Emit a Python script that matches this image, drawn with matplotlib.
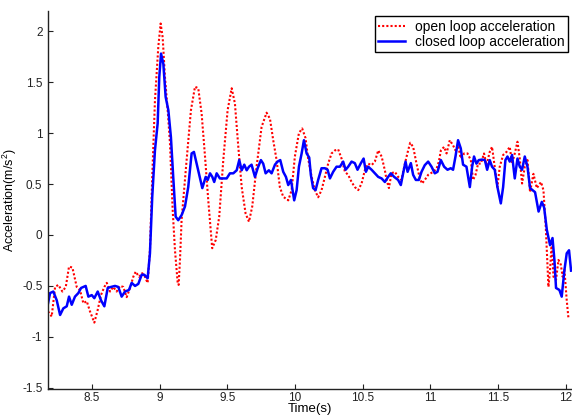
import matplotlib
matplotlib.use("Agg")
import matplotlib.pyplot as plt

# open loop acceleration (red dotted)
t_open = [8.175, 8.202, 8.227, 8.251, 8.281, 8.306, 8.330, 8.355, 8.387, 8.411,
          8.436, 8.461, 8.485, 8.517, 8.542, 8.566, 8.591, 8.609, 8.633, 8.657,
          8.682, 8.707, 8.731, 8.756, 8.781, 8.805, 8.823, 8.847, 8.871, 8.891,
          8.911, 8.928, 8.945, 8.965, 8.990, 9.007, 9.022, 9.039, 9.059, 9.076,
          9.096, 9.113, 9.133, 9.140, 9.150, 9.162, 9.199, 9.231, 9.261, 9.285,
          9.310, 9.335, 9.359, 9.388, 9.414, 9.440, 9.470, 9.502, 9.532, 9.556,
          9.581, 9.606, 9.635, 9.660, 9.684, 9.716, 9.753, 9.790, 9.815, 9.839,
          9.864, 9.888, 9.913, 9.950, 9.975, 9.999, 10.029, 10.053, 10.078, 10.097,
          10.123, 10.147, 10.171, 10.196, 10.221, 10.245, 10.270, 10.295, 10.319, 10.344,
          10.369, 10.393, 10.418, 10.442, 10.467, 10.492, 10.516, 10.541, 10.566, 10.590,
          10.615, 10.640, 10.664, 10.677, 10.694, 10.713, 10.738, 10.762, 10.787, 10.812,
          10.836, 10.851, 10.873, 10.898, 10.922, 10.939, 10.959, 10.984, 11.021, 11.046,
          11.063, 11.078, 11.102, 11.120, 11.144, 11.168, 11.186, 11.205, 11.225, 11.250,
          11.275, 11.299, 11.316, 11.334, 11.353, 11.373, 11.397, 11.415, 11.439, 11.456,
          11.476, 11.496, 11.513, 11.538, 11.563, 11.587, 11.604, 11.624, 11.644, 11.661,
          11.678, 11.698, 11.718, 11.737, 11.762, 11.787, 11.818, 11.836, 11.853, 11.873,
          11.885, 11.897, 11.910, 11.929, 11.947, 11.964, 11.978, 11.991, 12.008, 12.021]
a_open = [-0.75, -0.80, -0.51, -0.49, -0.555, -0.51, -0.31, -0.32, -0.51, -0.54,
          -0.67, -0.65, -0.75, -0.86, -0.735, -0.59, -0.51, -0.47, -0.555, -0.51,
          -0.555, -0.50, -0.51, -0.61, -0.52, -0.41, -0.36, -0.41, -0.375, -0.41,
          -0.47, -0.15, 0.57, 1.32, 1.85, 2.075, 1.94, 1.55, 1.225, 0.90,
          0.245, -0.15, -0.47, -0.49, -0.245, 0.15, 0.735, 1.225, 1.455, 1.44,
          1.19, 0.77, 0.34, -0.13, -0.05, 0.18, 0.735, 1.225, 1.44, 1.29,
          0.865, 0.47, 0.21, 0.13, 0.28, 0.67, 1.06, 1.20, 1.14, 0.93,
          0.735, 0.47, 0.375, 0.34, 0.44, 0.77, 1.0, 1.045, 0.95, 0.75,
          0.57, 0.44, 0.37, 0.44, 0.57, 0.70, 0.80, 0.83, 0.84, 0.75,
          0.62, 0.59, 0.52, 0.47, 0.44, 0.505, 0.635, 0.70, 0.685, 0.72,
          0.83, 0.77, 0.635, 0.54, 0.46, 0.605, 0.62, 0.57, 0.54, 0.70,
          0.83, 0.905, 0.865, 0.70, 0.555, 0.505, 0.54, 0.59, 0.62, 0.65,
          0.72, 0.83, 0.865, 0.80, 0.93, 0.88, 0.83, 0.88, 0.75, 0.80,
          0.80, 0.735, 0.54, 0.59, 0.70, 0.70, 0.80, 0.685, 0.815, 0.865,
          0.67, 0.47, 0.67, 0.785, 0.815, 0.865, 0.70, 0.80, 0.915, 0.75,
          0.505, 0.67, 0.735, 0.42, 0.60, 0.46, 0.52, 0.44, 0.08, -0.51,
          -0.34, -0.065, -0.41, -0.44, -0.245, -0.29, -0.41, -0.34, -0.64, -0.82]

# closed loop acceleration (blue solid)
t_closed = [8.175, 8.190, 8.214, 8.239, 8.264, 8.288, 8.313, 8.330, 8.350, 8.374,
            8.399, 8.419, 8.453, 8.473, 8.498, 8.517, 8.542, 8.566, 8.591, 8.616,
            8.640, 8.670, 8.694, 8.719, 8.744, 8.773, 8.793, 8.818, 8.842, 8.867,
            8.886, 8.911, 8.928, 8.945, 8.965, 8.985, 8.997, 9.010, 9.027, 9.044,
            9.064, 9.083, 9.100, 9.118, 9.137, 9.162, 9.187, 9.211, 9.236, 9.253,
            9.273, 9.290, 9.315, 9.340, 9.355, 9.372, 9.389, 9.403, 9.421, 9.445,
            9.470, 9.495, 9.519, 9.544, 9.569, 9.588, 9.606, 9.625, 9.643, 9.660,
            9.679, 9.704, 9.724, 9.748, 9.765, 9.783, 9.807, 9.827, 9.852, 9.871,
            9.891, 9.913, 9.933, 9.950, 9.970, 9.994, 10.012, 10.029, 10.049, 10.066,
            10.086, 10.105, 10.117, 10.134, 10.152, 10.171, 10.196, 10.221, 10.241, 10.258,
            10.282, 10.307, 10.332, 10.356, 10.374, 10.393, 10.418, 10.442, 10.462, 10.487,
            10.507, 10.524, 10.541, 10.566, 10.590, 10.615, 10.640, 10.664, 10.688, 10.708,
            10.733, 10.762, 10.782, 10.799, 10.817, 10.832, 10.856, 10.873, 10.893, 10.915,
            10.935, 10.959, 10.984, 11.009, 11.033, 11.053, 11.078, 11.102, 11.127, 11.151,
            11.168, 11.186, 11.205, 11.225, 11.242, 11.267, 11.292, 11.309, 11.323, 11.341,
            11.358, 11.383, 11.403, 11.420, 11.439, 11.456, 11.476, 11.496, 11.521, 11.538,
            11.555, 11.570, 11.587, 11.604, 11.624, 11.644, 11.661, 11.678, 11.698, 11.718,
            11.737, 11.774, 11.800, 11.824, 11.841, 11.861, 11.885, 11.903, 11.917, 11.929,
            11.954, 11.971, 11.991, 12.008, 12.025, 12.040]
a_closed = [-0.67, -0.57, -0.555, -0.64, -0.785, -0.72, -0.70, -0.605, -0.685, -0.605,
            -0.57, -0.52, -0.50, -0.605, -0.59, -0.62, -0.555, -0.64, -0.70, -0.52,
            -0.51, -0.50, -0.51, -0.605, -0.555, -0.54, -0.47, -0.50, -0.48, -0.39,
            -0.39, -0.425, -0.18, 0.375, 0.83, 1.095, 1.55, 1.78, 1.68, 1.355,
            1.225, 0.96, 0.57, 0.18, 0.145, 0.195, 0.28, 0.47, 0.80, 0.815,
            0.70, 0.605, 0.46, 0.57, 0.54, 0.605, 0.57, 0.52, 0.605, 0.555,
            0.555, 0.555, 0.605, 0.605, 0.635, 0.735, 0.635, 0.69, 0.635, 0.67,
            0.69, 0.57, 0.655, 0.735, 0.70, 0.605, 0.635, 0.605, 0.69, 0.72,
            0.735, 0.62, 0.57, 0.49, 0.54, 0.34, 0.44, 0.67, 0.80, 0.93,
            0.80, 0.76, 0.59, 0.46, 0.44, 0.54, 0.655, 0.655, 0.64, 0.555,
            0.62, 0.67, 0.67, 0.72, 0.64, 0.67, 0.72, 0.705, 0.64, 0.705,
            0.75, 0.62, 0.67, 0.64, 0.605, 0.57, 0.555, 0.52, 0.57, 0.605,
            0.57, 0.54, 0.49, 0.605, 0.72, 0.62, 0.705, 0.59, 0.54, 0.54,
            0.62, 0.685, 0.72, 0.67, 0.605, 0.62, 0.735, 0.67, 0.64, 0.655,
            0.64, 0.77, 0.93, 0.85, 0.69, 0.67, 0.47, 0.67, 0.77, 0.70,
            0.735, 0.74, 0.735, 0.64, 0.735, 0.67, 0.64, 0.47, 0.31, 0.47,
            0.735, 0.77, 0.72, 0.785, 0.555, 0.75, 0.67, 0.64, 0.77, 0.67,
            0.46, 0.42, 0.23, 0.325, 0.27, 0.05, -0.10, -0.03, -0.245, -0.52,
            -0.54, -0.605, -0.345, -0.18, -0.15, -0.35]

xticks = [8.5, 9, 9.5, 10, 10.5, 11, 11.5, 12]
xtick_labels = ["8.5", "9", "9.5", "10", "10.5", "11", "11.5", "12"]
yticks = [-1.5, -1, -0.5, 0, 0.5, 1, 1.5, 2]
ytick_labels = ["-1.5", "-1", "-0.5", "0", "0.5", "1", "1.5", "2"]

plt.rcParams["font.family"] = ["Liberation Sans", "DejaVu Sans"]
plt.rcParams["mathtext.fontset"] = "custom"
plt.rcParams["mathtext.rm"] = "Liberation Sans"

fig = plt.figure(figsize=(5.72, 4.15), dpi=100)
ax = fig.add_axes([0.084, 0.063, 0.916, 0.911])

ax.plot(t_open, a_open, color="#ff0000", linestyle=(0, (1, 1)), linewidth=1.5,
        label="open loop acceleration")
ax.plot(t_closed, a_closed, color="#0000ff", linestyle="-", linewidth=1.8,
        label="closed loop acceleration")

ax.set_xlim(8.175, 12.047)
ax.set_ylim(-1.51, 2.2)
ax.set_xticks(xticks)
ax.set_xticklabels(xtick_labels)
ax.set_yticks(yticks)
ax.set_yticklabels(ytick_labels)
ax.tick_params(direction="in", length=3.5, width=0.8, labelsize=8.5,
               colors="#222222", pad=4)
ax.tick_params(axis="x", pad=2.5)

for side in ("top", "right"):
    ax.spines[side].set_visible(False)
for side in ("left", "bottom"):
    ax.spines[side].set_linewidth(1.0)
    ax.spines[side].set_color("#222222")

# x label sits right at the bottom edge, as in the reference
ax.set_xlabel("Time(s)", fontsize=9.5, va="bottom")
ax.xaxis.set_label_coords(0.5, -0.068)
ax.set_ylabel("Acceleration(m/s$^2$)", fontsize=9, labelpad=2)

leg = ax.legend(loc="upper right", bbox_to_anchor=(0.993, 0.985), fontsize=10,
                frameon=True, fancybox=False, framealpha=1, edgecolor="black",
                handlelength=1.9, handletextpad=0.75, borderpad=0.25,
                labelspacing=0.05, borderaxespad=0)
leg.get_frame().set_linewidth(1.0)

fig.savefig("out.png", dpi=100)
